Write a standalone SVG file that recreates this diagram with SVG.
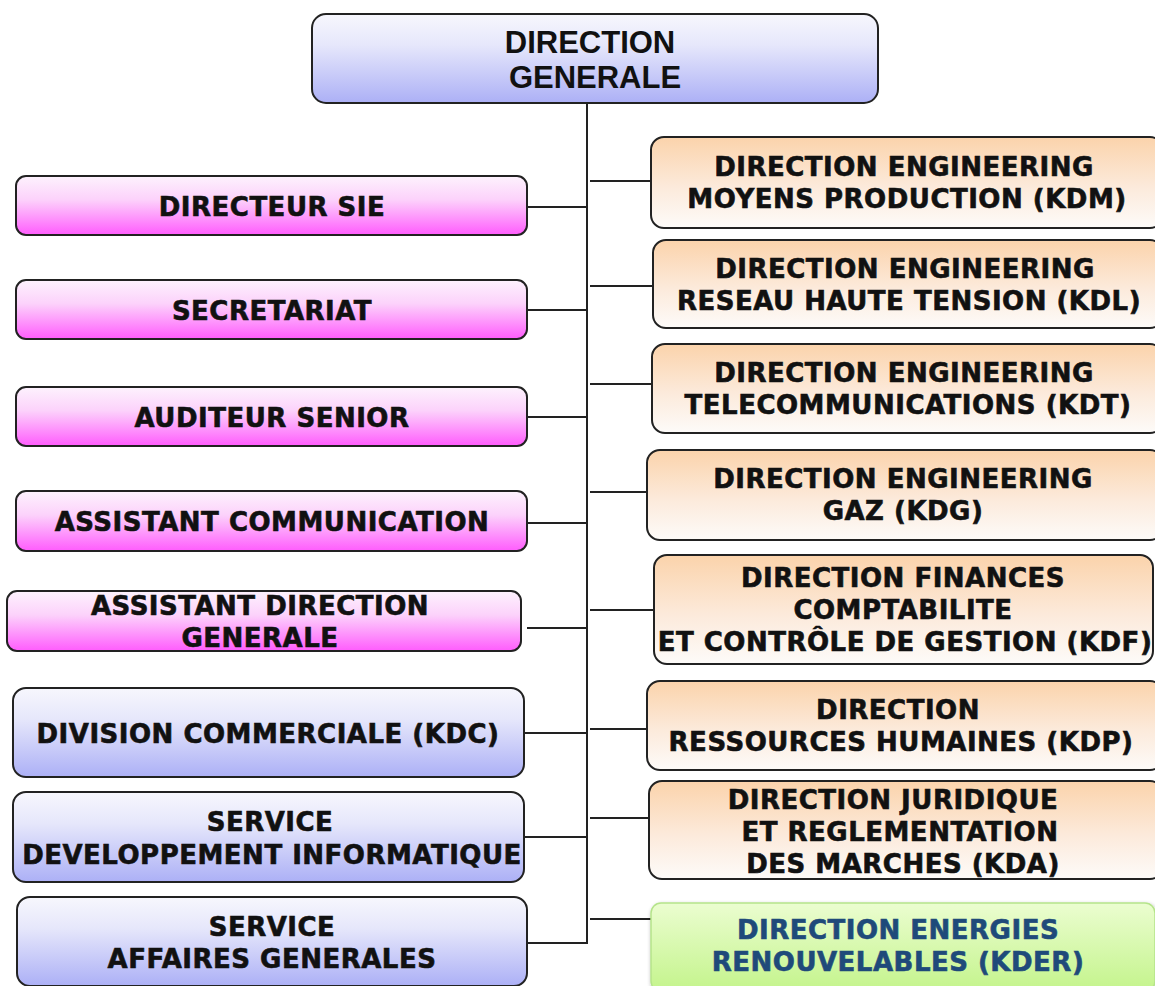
<svg xmlns="http://www.w3.org/2000/svg" width="1155" height="986" viewBox="0 0 1155 986">
<defs>
<linearGradient id="gBlue" x1="0" y1="0" x2="0" y2="1">
<stop offset="0" stop-color="#f7f7fd"/><stop offset="0.35" stop-color="#e6e7fb"/><stop offset="1" stop-color="#acb0f6"/>
</linearGradient>
<linearGradient id="gPink" x1="0" y1="0" x2="0" y2="1">
<stop offset="0" stop-color="#fdf2fd"/><stop offset="0.4" stop-color="#fcd2fb"/><stop offset="1" stop-color="#ff5cfd"/>
</linearGradient>
<linearGradient id="gOrange" x1="0" y1="0" x2="0" y2="1">
<stop offset="0" stop-color="#fbd3ab"/><stop offset="0.55" stop-color="#fceadb"/><stop offset="1" stop-color="#fdfbf9"/>
</linearGradient>
<linearGradient id="gGreen" x1="0" y1="0" x2="0" y2="1">
<stop offset="0" stop-color="#ebfdd0"/><stop offset="1" stop-color="#c4f48c"/>
</linearGradient>
<filter id="glow" x="-5%" y="-10%" width="110%" height="120%">
<feGaussianBlur in="SourceAlpha" stdDeviation="2"/><feOffset dx="1" dy="2"/>
<feComponentTransfer><feFuncA type="linear" slope="0.35"/></feComponentTransfer>
<feMerge><feMergeNode/><feMergeNode in="SourceGraphic"/></feMerge>
</filter>
</defs>
<style>
.box{stroke:#222;stroke-width:2}
.blue{fill:url(#gBlue)}
.pink{fill:url(#gPink)}
.orange{fill:url(#gOrange)}
.green{fill:url(#gGreen);stroke:#b5e48a;stroke-width:1.5}
.t{font-family:"DejaVu Sans",Verdana,sans-serif;font-weight:bold;font-size:26px;letter-spacing:0.5px;fill:#111;stroke:#111;stroke-width:0.6;text-anchor:middle}
.tg{fill:#1f4a7a;stroke:#1f4a7a}
.top{font-family:"Liberation Sans",Arial,sans-serif;font-weight:bold;font-size:31px;fill:#111;text-anchor:middle}
.c{stroke:#222;stroke-width:2;fill:none}
</style>
<g id="connectors">
<line class="c" x1="587" y1="103" x2="587" y2="943"/>
<line class="c" x1="527" y1="207" x2="587" y2="207"/>
<line class="c" x1="527" y1="310" x2="587" y2="310"/>
<line class="c" x1="527" y1="417" x2="587" y2="417"/>
<line class="c" x1="527" y1="523" x2="587" y2="523"/>
<line class="c" x1="527" y1="628" x2="587" y2="628"/>
<line class="c" x1="524" y1="733" x2="587" y2="733"/>
<line class="c" x1="524" y1="837" x2="587" y2="837"/>
<line class="c" x1="527" y1="943" x2="588" y2="943"/>
<line class="c" x1="590" y1="181" x2="651" y2="181"/>
<line class="c" x1="590" y1="286" x2="653" y2="286"/>
<line class="c" x1="590" y1="384" x2="652" y2="384"/>
<line class="c" x1="590" y1="492" x2="647" y2="492"/>
<line class="c" x1="590" y1="610" x2="654" y2="610"/>
<line class="c" x1="590" y1="729" x2="647" y2="729"/>
<line class="c" x1="590" y1="818" x2="649" y2="818"/>
<line class="c" x1="590" y1="919" x2="651" y2="919"/>
</g>
<g id="n-dg">
<rect class="box blue" x="312" y="14" width="566" height="89" rx="14"/>
<text class="top" x="590" y="53">DIRECTION</text>
<text class="top" x="595" y="88">GENERALE</text>
</g>
<g id="n-sie">
<rect class="box pink" x="16" y="176" width="511" height="59" rx="10"/>
<text class="t" x="272" y="216">DIRECTEUR SIE</text>
</g>
<g id="n-secretariat">
<rect class="box pink" x="16" y="280" width="511" height="59" rx="10"/>
<text class="t" x="272" y="320">SECRETARIAT</text>
</g>
<g id="n-auditeur">
<rect class="box pink" x="16" y="387" width="511" height="59" rx="10"/>
<text class="t" x="272" y="427">AUDITEUR SENIOR</text>
</g>
<g id="n-asscom">
<rect class="box pink" x="16" y="491" width="511" height="60" rx="10"/>
<text class="t" x="272" y="531">ASSISTANT COMMUNICATION</text>
</g>
<g id="n-assdg">
<rect class="box pink" x="7" y="591" width="514" height="60" rx="10"/>
<text class="t" x="260" y="615">ASSISTANT DIRECTION</text>
<text class="t" x="260" y="647">GENERALE</text>
</g>
<g id="n-kdc">
<rect class="box blue" x="13" y="688" width="511" height="89" rx="13"/>
<text class="t" x="268" y="743">DIVISION COMMERCIALE (KDC)</text>
</g>
<g id="n-sdi">
<rect class="box blue" x="13" y="792" width="511" height="90" rx="13"/>
<text class="t" x="270" y="831">SERVICE</text>
<text class="t" x="272" y="864">DEVELOPPEMENT INFORMATIQUE</text>
</g>
<g id="n-sag">
<rect class="box blue" x="17" y="897" width="510" height="89" rx="13"/>
<text class="t" x="272" y="936">SERVICE</text>
<text class="t" x="272" y="968">AFFAIRES GENERALES</text>
</g>
<g id="n-kdm">
<rect class="box orange" x="651" y="137" width="512" height="91" rx="13"/>
<text class="t" x="904" y="176">DIRECTION ENGINEERING</text>
<text class="t" x="907" y="208">MOYENS PRODUCTION (KDM)</text>
</g>
<g id="n-kdl">
<rect class="box orange" x="653" y="240" width="510" height="88" rx="13"/>
<text class="t" x="905" y="278">DIRECTION ENGINEERING</text>
<text class="t" x="909" y="310">RESEAU HAUTE TENSION (KDL)</text>
</g>
<g id="n-kdt">
<rect class="box orange" x="652" y="344" width="511" height="89" rx="13"/>
<text class="t" x="904" y="382">DIRECTION ENGINEERING</text>
<text class="t" x="908" y="414">TELECOMMUNICATIONS (KDT)</text>
</g>
<g id="n-kdg">
<rect class="box orange" x="647" y="450" width="516" height="90" rx="13"/>
<text class="t" x="903" y="488">DIRECTION ENGINEERING</text>
<text class="t" x="903" y="520">GAZ (KDG)</text>
</g>
<g id="n-kdf">
<rect class="box orange" x="654" y="555" width="499" height="109" rx="13"/>
<text class="t" x="903" y="587">DIRECTION FINANCES</text>
<text class="t" x="903" y="619">COMPTABILITE</text>
<text class="t" x="905" y="651">ET CONTRÔLE DE GESTION (KDF)</text>
</g>
<g id="n-kdp">
<rect class="box orange" x="647" y="681" width="516" height="89" rx="13"/>
<text class="t" x="898" y="719">DIRECTION</text>
<text class="t" x="901" y="751">RESSOURCES HUMAINES (KDP)</text>
</g>
<g id="n-kda">
<rect class="box orange" x="649" y="781" width="514" height="98" rx="13"/>
<text class="t" x="893" y="809">DIRECTION JURIDIQUE</text>
<text class="t" x="900" y="841">ET REGLEMENTATION</text>
<text class="t" x="903" y="873">DES MARCHES (KDA)</text>
</g>
<g id="n-kder">
<rect class="green" x="651" y="903" width="504" height="88" rx="10" filter="url(#glow)"/>
<text class="t tg" x="898" y="939">DIRECTION ENERGIES</text>
<text class="t tg" x="898" y="971">RENOUVELABLES (KDER)</text>
</g>
</svg>
